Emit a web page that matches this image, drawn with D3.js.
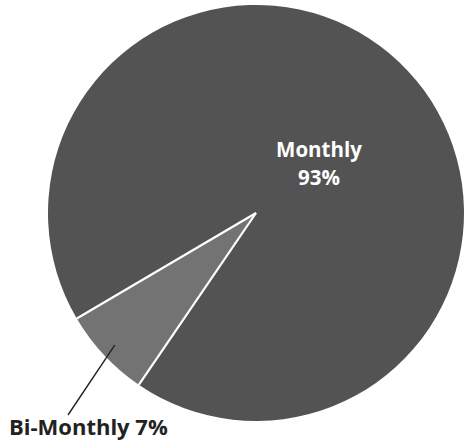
<!DOCTYPE html>
<html><head><meta charset="utf-8">
<script src="https://cdn.jsdelivr.net/npm/d3@7"></script>
<style>html,body{margin:0;padding:0;background:#fff;}svg{display:block;}</style>
</head><body>
<script>
const categories = ["Monthly", "Bi-Monthly"];
const values = [93, 7];
const labels = ["Monthly", "Bi-Monthly 7%"];
const colors = ["#535353", "#737373"];

const W = 464, H = 444, cx = 256, cy = 213, R = 208;
const svg = d3.select("body").append("svg").attr("width", W).attr("height", H);
const g = svg.append("g").attr("transform", `translate(${cx},${cy})`);

const start = 239.5 * Math.PI / 180;
const pie = d3.pie().sort(null).value(d => d).startAngle(start).endAngle(start + 2 * Math.PI);
const arcs = pie(values);
const arc = d3.arc().innerRadius(0).outerRadius(R);

g.selectAll("path.slice").data(arcs).enter().append("path")
  .attr("class", "slice")
  .attr("d", arc)
  .attr("fill", (d, i) => colors[i]);

// white radial separators
arcs.forEach(a => {
  const ang = a.startAngle;
  g.append("line")
    .attr("x1", 0).attr("y1", 0)
    .attr("x2", Math.sin(ang) * R).attr("y2", -Math.cos(ang) * R)
    .attr("stroke", "#fff").attr("stroke-width", 2.2);
});

// Monthly label (inside)
const t = g.append("text").attr("fill", "#fff")
  .attr("font-family", "'Open Sans', sans-serif").attr("font-weight", "bold")
  .attr("font-size", 20.5).attr("text-anchor", "middle");
t.append("tspan").attr("x", 63).attr("y", -56).text(categories[0]);
t.append("tspan").attr("x", 63).attr("y", -28).text(values[0] + "%");

// Bi-Monthly label with leader line
const b = arcs[1];
const pin = d3.arc().innerRadius(R * 0.93).outerRadius(R * 0.93).centroid(b);
svg.append("line")
  .attr("x1", cx + pin[0]).attr("y1", cy + pin[1])
  .attr("x2", 68).attr("y2", 415)
  .attr("stroke", "#222").attr("stroke-width", 1.4);

svg.append("text").attr("x", 9).attr("y", 435)
  .attr("font-family", "'Open Sans', sans-serif").attr("font-weight", "bold")
  .attr("font-size", 22).attr("fill", "#222")
  .text(labels[1]);
</script>
</body></html>
